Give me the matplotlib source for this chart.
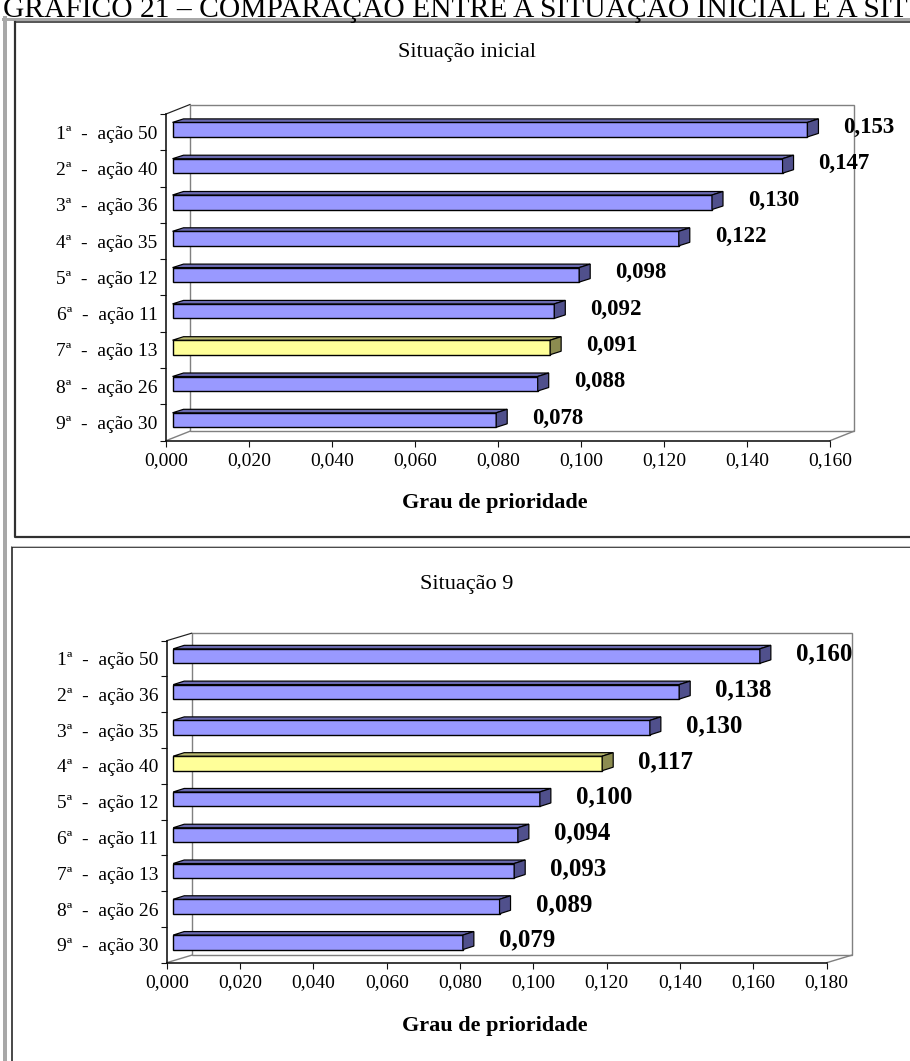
import numpy as np
import matplotlib
matplotlib.use('Agg')
import matplotlib.pyplot as plt
from matplotlib.patches import Polygon, Rectangle
from matplotlib.lines import Line2D

W, H = 910, 1061
FONT = 'Liberation Serif'
plt.rcParams['font.family'] = [FONT, 'DejaVu Sans']

# ---------------- data ----------------
header = "GRÁFICO 21 – COMPARAÇÃO ENTRE A SITUAÇÃO INICIAL E A SIT"

top_title = "Situação inicial"
top_labels = ["1ª  -  ação 50", "2ª  -  ação 40", "3ª  -  ação 36", "4ª  -  ação 35",
              "5ª  -  ação 12", "6ª  -  ação 11", "7ª  -  ação 13", "8ª  -  ação 26",
              "9ª  -  ação 30"]
top_values = [0.153, 0.147, 0.130, 0.122, 0.098, 0.092, 0.091, 0.088, 0.078]
top_highlight = "7ª  -  ação 13"
top_xticks = [0.000, 0.020, 0.040, 0.060, 0.080, 0.100, 0.120, 0.140, 0.160]

bottom_title = "Situação 9"
bottom_labels = ["1ª  -  ação 50", "2ª  -  ação 36", "3ª  -  ação 35", "4ª  -  ação 40",
                 "5ª  -  ação 12", "6ª  -  ação 11", "7ª  -  ação 13", "8ª  -  ação 26",
                 "9ª  -  ação 30"]
bottom_values = [0.160, 0.138, 0.130, 0.117, 0.100, 0.094, 0.093, 0.089, 0.079]
bottom_highlight = "4ª  -  ação 40"
bottom_xticks = [0.000, 0.020, 0.040, 0.060, 0.080, 0.100, 0.120, 0.140, 0.160, 0.180]

x_label = "Grau de prioridade"

# colours
BLUE_FRONT, BLUE_TOP, BLUE_SIDE = '#9999FF', '#6A6AB0', '#50508C'
YEL_FRONT, YEL_TOP, YEL_SIDE = '#FFFF99', '#B8B86E', '#8C8C50'
WALL = '#808080'


def fmt(v):
    return f"{v:.3f}".replace('.', ',')


fig = plt.figure(figsize=(W / 100, H / 100), dpi=100)
bg = fig.add_axes([0, 0, 1, 1], zorder=0)
bg.set_xlim(0, W)
bg.set_ylim(H, 0)
bg.axis('off')

# ---------- frames ----------
bg.add_line(Line2D([5.3, 5.3], [18, H], color='#A8A8A8', lw=4 * 0.72))
bg.add_line(Line2D([3.3, W], [18.5, 18.5], color='#A8A8A8', lw=3 * 0.72))
# top panel box
bg.add_line(Line2D([15, 15, W + 5], [22, 537, 537], color='#303030', lw=2.2 * 0.72))
bg.add_line(Line2D([15, W + 5], [22, 22], color='#303030', lw=1.6 * 0.72))
# bottom panel box
bg.add_line(Line2D([11.7, 11.7, W + 5], [H + 5, 547, 547], color='#202020', lw=1.6 * 0.72))
bg.add_line(Line2D([11.7, W + 5], [545.5, 545.5], color='#C0C0C0', lw=1 * 0.72))

# ---------- header (fit width so that "...A SIT" reaches the right edge) ----------
ht = bg.text(3, 17, header, fontsize=20, ha='left', va='baseline', family=FONT)
fig.canvas.draw()
bb = ht.get_window_extent()
ht.set_fontsize(20 * 905 / bb.width)


def draw_panel(box, labels, values, highlight, xticks, wall_dx, wall_dy,
               value_fs, title, title_xy, xlabel_xy):
    left, top, right, bottom = box
    ax = fig.add_axes([left / W, 1 - bottom / H, (right - left) / W, (bottom - top) / H], zorder=2)
    ax.set_facecolor('none')
    n = len(values)
    xmax = xticks[-1]
    ax.set_xlim(0, xmax)
    ax.set_ylim(n, 0)
    sx = (right - left) / xmax
    sy = (bottom - top) / n

    def ox(px):
        return px / sx

    def oy(px_up):
        return -px_up / sy

    # walls
    wdx, wdy = ox(wall_dx), oy(wall_dy)
    ax.add_patch(Rectangle((wdx, wdy), xmax, n, fill=False, ec=WALL, lw=1.4 * 0.72,
                           clip_on=False, zorder=1))
    ax.add_line(Line2D([0, wdx], [0, wdy], color='#202020', lw=1.2 * 0.72, clip_on=False, zorder=1))
    ax.add_line(Line2D([0, wdx], [n, n + wdy], color=WALL, lw=1.4 * 0.72, clip_on=False, zorder=1))
    ax.add_line(Line2D([xmax, xmax + wdx], [n, n + wdy], color=WALL, lw=1.4 * 0.72,
                       clip_on=False, zorder=1))

    # spines
    for s in ['top', 'right']:
        ax.spines[s].set_visible(False)
    for s in ['left', 'bottom']:
        ax.spines[s].set_color('#101010')
        ax.spines[s].set_linewidth(1.6 * 0.72)

    # bars (3D look)
    fdx, fdy = ox(6.5), oy(2.5)        # front face offset
    ddx, ddy = ox(11), oy(3.5)         # bar depth
    h = 14.5 / sy
    ycent = np.arange(n) + 0.5
    front_cols = [YEL_FRONT if l == highlight else BLUE_FRONT for l in labels]
    ax.barh(ycent + fdy, values, height=h, left=fdx, color=front_cols,
            edgecolor='black', linewidth=1.4 * 0.72, zorder=3)
    for i, (l, v) in enumerate(zip(labels, values)):
        hl = (l == highlight)
        ytop = ycent[i] + fdy - h / 2
        ybot = ycent[i] + fdy + h / 2
        x0, x1 = fdx, v + fdx
        top_face = Polygon([(x0, ytop), (x1, ytop), (x1 + ddx, ytop + ddy), (x0 + ddx, ytop + ddy)],
                           closed=True, fc=YEL_TOP if hl else BLUE_TOP, ec='black',
                           lw=1.2 * 0.72, zorder=3)
        side_face = Polygon([(x1, ytop), (x1, ybot), (x1 + ddx, ybot + ddy), (x1 + ddx, ytop + ddy)],
                            closed=True, fc=YEL_SIDE if hl else BLUE_SIDE, ec='black',
                            lw=1.2 * 0.72, zorder=3)
        ax.add_patch(top_face)
        ax.add_patch(side_face)
        ax.annotate(fmt(v), xy=(v, ycent[i]), xytext=(6.5 + 36, 4.5),
                    textcoords='offset pixels', ha='left', va='center',
                    fontsize=value_fs, fontweight='bold', family=FONT,
                    annotation_clip=False, zorder=5)

    # ticks
    ax.set_yticks(np.arange(n + 1))
    ax.set_yticklabels([])
    ax.set_yticks(ycent, labels, minor=True)
    ax.tick_params(axis='y', which='major', direction='out', length=4, width=1.1 * 0.72,
                   color='#101010')
    ax.tick_params(axis='y', which='minor', length=0, pad=6, labelsize=14)
    ax.set_xticks(xticks, [fmt(t) for t in xticks])
    ax.tick_params(axis='x', direction='out', length=4, width=1.1 * 0.72, color='#101010',
                   pad=4.5, labelsize=14)
    for t in ax.get_yticklabels(minor=True) + ax.get_xticklabels():
        t.set_family(FONT)

    bg.text(title_xy[0], title_xy[1], title, fontsize=16, ha='center', va='center', family=FONT)
    bg.text(xlabel_xy[0], xlabel_xy[1], x_label, fontsize=16, fontweight='bold',
            ha='center', va='center', family=FONT)
    return ax


draw_panel((166, 114, 830, 440.7), top_labels, top_values, top_highlight, top_xticks,
           24, 9.5, 16.5, top_title, (467, 52), (495, 503))
draw_panel((166.7, 640.7, 826.7, 962.7), bottom_labels, bottom_values, bottom_highlight,
           bottom_xticks, 25, 7.5, 18, bottom_title, (467, 585), (495, 1026))

fig.savefig('out.png', dpi=100)
